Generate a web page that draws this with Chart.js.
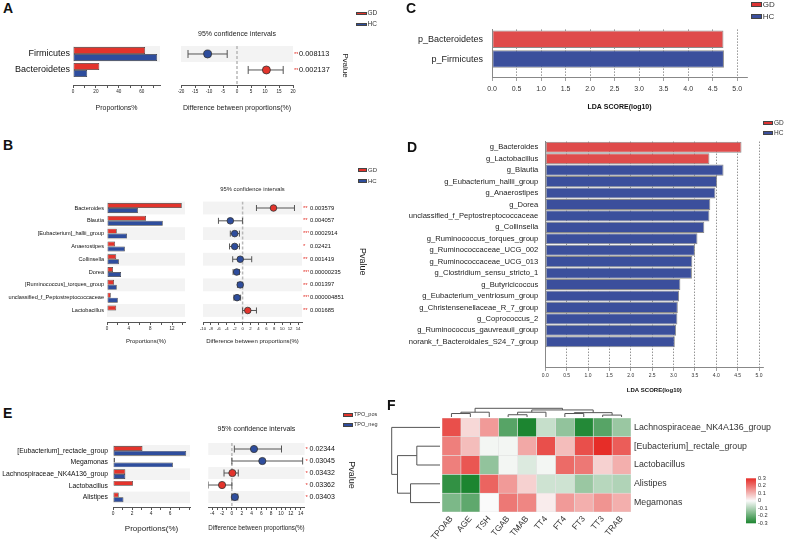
<!DOCTYPE html>
<html>
<head>
<meta charset="utf-8">
<script src="https://cdn.jsdelivr.net/npm/chart.js@4.4.1/dist/chart.umd.min.js"></script>
<style>
  body { margin: 0; background: #fff; width: 785px; height: 543px; position: relative; overflow: hidden; font-family: "Liberation Sans", Arial, sans-serif; }
  canvas { position: absolute; }
  .t { position: absolute; white-space: nowrap; color: #333; line-height: 1; z-index: 2; }
  .tag { position: absolute; font-weight: bold; font-size: 14px; line-height: 1; color: #111; z-index: 2; }
  .key { position: absolute; box-sizing: border-box; border: 0.6px solid #444; z-index: 2; }
</style>
</head>
<body>
<script>
// ---- A: phylum, GD vs HC ----
const aTaxa = ['Firmicutes', 'Bacteroidetes'];
const aGD = [63, 23];
const aHC = [73.5, 12.4];
const aDiff = [-10.5, 10.5];
const aLow = [-17.5, 4];
const aHigh = [-3.5, 16.5];
const aStars = ['**', '**'];
const aP = ['0.008113', '0.002137'];

// ---- B: genus, GD vs HC ----
const bTaxa = ['Bacteroides', 'Blautia', '[Eubacterium]_hallii_group', 'Anaerostipes', 'Collinsella', 'Dorea',
  '[Ruminococcus]_torques_group', 'unclassified_f_Peptostreptococcaceae', 'Lactobacillus'];
const bGD = [13.8, 7.2, 1.8, 1.5, 1.7, 1.1, 1.3, 0.7, 1.7];
const bHC = [5.7, 10.3, 3.7, 3.3, 2.2, 2.6, 1.8, 2.0, 0.1];
const bDiff = [7.8, -3.1, -2.0, -2.0, -0.6, -1.5, -0.6, -1.4, 1.3];
const bLow = [3.5, -6.1, -3.1, -3.3, -2.5, -2.4, -1.3, -2.2, 0];
const bHigh = [13.1, 0, -0.8, -0.8, 2.3, -0.8, 0, -0.5, 3.5];
const bStars = ['**', '**', '***', '*', '**', '***', '**', '***', '**'];
const bP = ['0.003579', '0.004057', '0.0002914', '0.02421', '0.001419', '0.00000235', '0.001397', '0.000004851', '0.001685'];

// ---- C: LDA phylum ----
const cTaxa = ['p_Bacteroidetes', 'p_Firmicutes'];
const cLDA = [4.72, 4.73];
const cGroup = ['GD', 'HC'];

// ---- D: LDA genus ----
const dTaxa = ['g_Bacteroides', 'g_Lactobacillus', 'g_Blautia', 'g_Eubacterium_hallii_group', 'g_Anaerostipes', 'g_Dorea',
  'unclassified_f_Peptostreptococcaceae', 'g_Collinsella', 'g_Ruminococcus_torques_group', 'g_Ruminococcaceae_UCG_002',
  'g_Ruminococcaceae_UCG_013', 'g_Clostridium_sensu_stricto_1', 'g_Butyricicoccus', 'g_Eubacterium_ventriosum_group',
  'g_Christensenellaceae_R_7_group', 'g_Coprococcus_2', 'g_Ruminococcus_gauvreauii_group', 'norank_f_Bacteroidales_S24_7_group'];
const dLDA = [4.59, 3.84, 4.17, 4.02, 3.98, 3.86, 3.84, 3.72, 3.56, 3.50, 3.44, 3.43, 3.16, 3.13, 3.10, 3.09, 3.06, 3.03];
const dGroup = ['GD', 'GD', 'HC', 'HC', 'HC', 'HC', 'HC', 'HC', 'HC', 'HC', 'HC', 'HC', 'HC', 'HC', 'HC', 'HC', 'HC', 'HC'];

// ---- E: TPO_pos vs TPO_neg ----
const eTaxa = ['[Eubacterium]_rectacle_group', 'Megamonas', 'Lachnospiraceae_NK4A136_group', 'Lactobacillus', 'Alistipes'];
const ePos = [3.1, 0.2, 1.3, 2.1, 0.6];
const eNeg = [7.7, 6.3, 1.3, 0, 1.1];
const eDiff = [4.5, 6.2, 0.1, -2.0, 0.6];
const eLow = [0.5, 0, -1.6, -4.8, 0];
const eHigh = [10.1, 14.4, 1.3, 0, 1.2];
const eStars = ['*', '*', '*', '*', '*'];
const eP = ['0.02344', '0.03045', '0.03432', '0.03362', '0.03403'];

// ---- F: correlation heatmap ----
const fRows = ['Lachnospiraceae_NK4A136_group', '[Eubacterium]_rectale_group', 'Lactobacillus', 'Alistipes', 'Megamonas'];
const fCols = ['TPOAB', 'AGE', 'TSH', 'TGAB', 'TMAB', 'TT4', 'FT4', 'FT3', 'TT3', 'TRAB'];
const fVals = [
  [0.25, 0.05, 0.14, -0.22, -0.30, -0.07, -0.14, -0.29, -0.22, -0.13],
  [0.18, 0.09, -0.01, -0.01, 0.12, 0.25, 0.09, 0.25, 0.30, 0.23],
  [0.18, 0.24, -0.14, -0.01, -0.04, -0.01, 0.21, 0.19, 0.06, 0.11],
  [-0.27, -0.30, 0.22, 0.14, 0.06, -0.06, -0.06, -0.13, -0.09, -0.10],
  [-0.17, -0.21, 0.00, 0.19, 0.17, 0.02, 0.14, 0.11, 0.15, 0.11]
];
const fColTree = [[0, 1, 0.4], [10, 2, 0.55], [3, 4, 0.26], [12, 5, 0.55], [6, 7, 0.4], [8, 9, 0.22], [14, 15, 0.5], [13, 16, 0.81], [11, 17, 1.0]];
const fRowTree = [[1, 2, 0.48], [3, 4, 0.61], [5, 6, 0.88], [0, 7, 1.0]];
const fScale = [-0.3, -0.2, -0.1, 0, 0.1, 0.2, 0.3];

Chart.defaults.font.family = '"Liberation Sans", Arial, sans-serif';
Chart.defaults.color = '#222';
Chart.defaults.animation = false;
Chart.defaults.responsive = false;
Chart.defaults.plugins.legend.display = false;
Chart.defaults.plugins.tooltip.enabled = false;

const RED = '#e3342c', BLUE = '#2e4d9d';
const LRED = '#df4b4b', LBLUE = '#3b4f9c';

function canvasAt(x, y, w, h) {
  const c = document.createElement('canvas');
  c.width = w; c.height = h;
  c.style.left = x + 'px'; c.style.top = y + 'px';
  c.style.width = w + 'px'; c.style.height = h + 'px';
  document.body.appendChild(c);
  return c;
}

function heat(v) {
  const k = Math.min(1, Math.abs(v) / 0.3);
  const mid = [250, 250, 250], end = v < 0 ? [28, 133, 48] : [230, 45, 40];
  return 'rgb(' + mid.map((m, i) => Math.round(m + (end[i] - m) * k)).join(',') + ')';
}

// grey bands behind every other row
const bands = {
  id: 'bands',
  beforeDatasetsDraw(chart, args, o) {
    const { ctx, chartArea: a, scales: { y } } = chart;
    ctx.save();
    ctx.fillStyle = '#f3f3f3';
    for (let i = 0; i < o.rows; i += 2) {
      const t = y.getPixelForValue(i - 0.5), b = y.getPixelForValue(i + 0.5);
      ctx.fillRect(a.left, t, a.right - a.left, b - t);
    }
    ctx.restore();
  }
};

function rows(labels, max, o) {
  return {
    type: 'linear', reverse: true, min: -0.5, max, offset: false,
    position: o.position || 'left', weight: o.weight || 0, display: o.display !== false,
    afterBuildTicks: s => { s.ticks = labels.map((_, i) => ({ value: i })); },
    ticks: Object.assign({ autoSkip: false, callback: v => labels[v] ?? '' }, o.ticks || {}),
    grid: { display: false, drawTicks: false },
    border: o.border || { display: false },
    afterFit: o.afterFit
  };
}

function xAxis(p, h) {
  return {
    type: 'linear', min: p.xmin ?? 0, max: p.xmax,
    ticks: {
      stepSize: p.step, includeBounds: false, autoSkip: false, maxRotation: 0, padding: 1,
      font: { size: p.tickFont },
      callback: v => (Math.abs(v % p.labelStep) < 1e-9 && v <= (p.labelMax ?? 1e9)) ? v : ''
    },
    grid: { drawOnChartArea: false, tickLength: 3, color: '#555' },
    border: { color: '#555' },
    title: { display: true, text: p.title, font: { size: p.titleFont }, padding: { top: 0, bottom: p.titlePad } },
    afterFit: s => { s.height = h; }
  };
}

function propChart(p) {
  const [cx, cy, cw, ch] = p.box, [L, T, R, B] = p.area;
  return new Chart(canvasAt(cx, cy, cw, ch), {
    type: 'bar',
    data: {
      datasets: [
        { data: p.g1.map((v, i) => ({ x: v, y: i })), backgroundColor: RED },
        { data: p.g2.map((v, i) => ({ x: v, y: i })), backgroundColor: BLUE }
      ]
    },
    options: {
      indexAxis: 'y',
      layout: { padding: { left: 0, top: T - cy, right: cx + cw - R, bottom: 0 } },
      datasets: { bar: { categoryPercentage: p.cat, barPercentage: 1, borderColor: '#3a3a3a', borderWidth: 0.7, borderSkipped: false } },
      scales: {
        x: xAxis(p, cy + ch - B),
        y: rows(p.names, p.ymax, {
          ticks: { font: { size: p.nameFont }, padding: p.namePad, color: '#111' },
          afterFit: s => { s.width = L - cx; }
        })
      },
      plugins: { bands: { rows: p.names.length } }
    },
    plugins: [bands]
  });
}

function ciChart(p) {
  const [cx, cy, cw, ch] = p.box, [L, T, R, B] = p.area;
  const colors = p.g1.map((v, i) => v >= p.g2[i] ? RED : BLUE);
  const datasets = [{
    type: 'scatter', data: p.diff.map((v, i) => ({ x: v, y: i })), order: 0,
    pointRadius: p.r, pointBackgroundColor: colors, pointBorderColor: '#333', pointBorderWidth: 0.8
  }];
  p.lo.forEach((lo, i) => datasets.push({
    type: 'line', data: [{ x: lo, y: i }, { x: p.hi[i], y: i }], order: 1,
    borderColor: '#555', borderWidth: 1, pointStyle: 'line', pointRotation: 90,
    pointRadius: p.cap, pointBorderColor: '#555', pointBorderWidth: 1
  }));
  datasets.push({
    type: 'line', data: [{ x: 0, y: -0.5 }, { x: 0, y: p.ymax }], order: 2,
    borderColor: '#b8b8b8', borderWidth: 1.5, borderDash: [3, 2], pointRadius: 0
  });
  const lh = p.ciFont * 1.2;
  return new Chart(canvasAt(cx, cy, cw, ch), {
    type: 'scatter',
    data: { datasets },
    options: {
      layout: { padding: { left: L - cx, top: 0, right: cx + cw - R - p.starsW - p.pvW, bottom: 0 } },
      scales: {
        x: xAxis(p, cy + ch - B),
        y: rows(p.names, p.ymax, { display: false }),
        ys: rows(p.stars, p.ymax, {
          position: 'right', weight: 1,
          ticks: { padding: 1, color: RED, font: { size: p.starFont } },
          afterFit: s => { s.width = p.starsW; }
        }),
        yp: Object.assign(rows(p.pv, p.ymax, {
          position: 'right', weight: 2,
          ticks: { padding: 1, color: '#111', font: { size: p.pvFont } },
          afterFit: s => { s.width = p.pvW; }
        }), { title: { display: true, text: 'Pvalue', color: '#222', font: { size: p.pTitleFont } } })
      },
      plugins: {
        bands: { rows: p.names.length },
        title: {
          display: true, text: '95% confidence intervals', fullSize: false, color: '#222',
          font: { size: p.ciFont, weight: 'normal' },
          padding: { top: p.ciTop - cy - lh / 2, bottom: T - p.ciTop - lh / 2 }
        }
      }
    },
    plugins: [bands]
  });
}

function ldaChart(p) {
  const [cx, cy, cw, ch] = p.box, [L, T, R, B] = p.area;
  const ds = (g, color) => ({
    data: p.names.map((n, i) => ({ x: p.score[i], y: i })).filter((d, i) => p.group[i] === g),
    backgroundColor: color
  });
  return new Chart(canvasAt(cx, cy, cw, ch), {
    type: 'bar',
    data: { datasets: [ds('GD', LRED), ds('HC', LBLUE)] },
    options: {
      indexAxis: 'y',
      layout: { padding: { left: 0, top: T - cy, right: cx + cw - R, bottom: 0 } },
      datasets: { bar: { grouped: false, categoryPercentage: p.cat, barPercentage: 1, borderColor: '#8c8c8c', borderWidth: 1, borderSkipped: false } },
      scales: {
        x: {
          type: 'linear', min: 0, max: p.xmax, z: 1,
          ticks: { stepSize: 0.5, includeBounds: false, autoSkip: false, maxRotation: 0, padding: p.tickPad, font: { size: p.tickFont }, color: '#333', callback: v => v.toFixed(1) },
          grid: { color: '#666', lineWidth: 0.7, tickLength: 4, tickColor: '#777' },
          border: { color: '#888', dash: [1.5, 1.5] },
          title: { display: true, text: 'LDA SCORE(log10)', color: '#111', font: { size: p.titleFont, weight: 'bold' }, padding: { top: 0, bottom: p.titlePad } },
          afterFit: s => { s.height = cy + ch - B; }
        },
        y: rows(p.names, p.ymax, {
          border: { display: true, color: '#888' },
          ticks: { font: { size: p.nameFont }, padding: p.namePad, color: '#222' },
          afterFit: s => { s.width = L - cx; }
        })
      }
    }
  });
}

// ---------- A ----------
propChart({ box: [0, 36, 180, 80], area: [73, 46, 160, 85], names: aTaxa, g1: aGD, g2: aHC, ymax: 1.94,
  xmax: 76, step: 10, labelStep: 20, tickFont: 4.6, nameFont: 9, namePad: 3, cat: 0.875,
  title: 'Proportions%', titleFont: 7, titlePad: 4 });
ciChart({ box: [175, 25, 210, 91], area: [181, 46, 293, 85], names: aTaxa, g1: aGD, g2: aHC,
  diff: aDiff, lo: aLow, hi: aHigh, stars: aStars, pv: aP, ymax: 1.94,
  xmin: -20, xmax: 20, step: 5, labelStep: 5, tickFont: 4.6, r: 4, cap: 4,
  starsW: 5, starFont: 6, pvW: 56, pvFont: 7.4, pTitleFont: 8, ciFont: 7, ciTop: 34,
  title: 'Difference between proportions(%)', titleFont: 7, titlePad: 4 });

// ---------- B ----------
propChart({ box: [0, 195, 190, 152], area: [107, 201.6, 185, 322], names: bTaxa, g1: bGD, g2: bHC, ymax: 8.9,
  xmax: 14.4, step: 2, labelStep: 4, tickFont: 4.5, nameFont: 5.6, namePad: 3, cat: 0.78,
  title: 'Proportions(%)', titleFont: 6, titlePad: 2 });
ciChart({ box: [195, 180, 190, 167], area: [203, 201.6, 302, 322], names: bTaxa, g1: bGD, g2: bHC,
  diff: bDiff, lo: bLow, hi: bHigh, stars: bStars, pv: bP, ymax: 8.9,
  xmin: -10, xmax: 15, step: 2, labelStep: 2, tickFont: 4.3, r: 3.3, cap: 3,
  starsW: 7, starFont: 6, pvW: 63, pvFont: 5.8, pTitleFont: 9, ciFont: 5.8, ciTop: 189.5,
  title: 'Difference between proportions(%)', titleFont: 6, titlePad: 2 });

// ---------- C ----------
ldaChart({ box: [395, 15, 390, 100], area: [492, 24, 747, 77], names: cTaxa, score: cLDA, group: cGroup,
  ymax: 1.91, xmax: 5.2, cat: 0.88, nameFont: 9, namePad: 9, tickFont: 7, tickPad: 4, titleFont: 7, titlePad: 3.8 });

// ---------- D ----------
ldaChart({ box: [395, 130, 390, 265], area: [545.3, 139.2, 763.3, 367], names: dTaxa, score: dLDA, group: dGroup,
  ymax: 19.21, xmax: 5.1, cat: 0.97, nameFont: 7.6, namePad: 7, tickFont: 5, tickPad: 2, titleFont: 6, titlePad: 1.4 });

// ---------- E ----------
propChart({ box: [0, 436, 200, 100], area: [113, 443, 190, 507], names: eTaxa, g1: ePos, g2: eNeg, ymax: 4.83,
  xmax: 8.1, step: 1, labelStep: 2, labelMax: 6, tickFont: 4.8, nameFont: 6.8, namePad: 5, cat: 0.83,
  title: 'Proportions(%)', titleFont: 8, titlePad: 2.8 });
ciChart({ box: [200, 418, 185, 118], area: [208.3, 443, 304.6, 507], names: eTaxa, g1: ePos, g2: eNeg,
  diff: eDiff, lo: eLow, hi: eHigh, stars: eStars, pv: eP, ymax: 4.83,
  xmin: -4.8, xmax: 14.8, step: 1, labelStep: 2, tickFont: 4.8, r: 3.6, cap: 3.5,
  starsW: 4, starFont: 6, pvW: 52.4, pvFont: 7, pTitleFont: 9, ciFont: 7, ciTop: 429,
  title: 'Difference between proportions(%)', titleFont: 7, titlePad: 3.5 });

// ---------- F ----------
function drawTree(ctx, link, n, pos, base, span, vertical) {
  const P = [], H = [];
  for (let i = 0; i < n; i++) { P[i] = pos(i); H[i] = 0; }
  const maxH = Math.max(...link.map(l => l[2]));
  const px = h => base + span * h / maxH;
  link.forEach(([a, b, h], k) => {
    P[n + k] = (P[a] + P[b]) / 2; H[n + k] = h;
    ctx.beginPath();
    if (vertical) {
      ctx.moveTo(P[a], px(H[a])); ctx.lineTo(P[a], px(h)); ctx.lineTo(P[b], px(h)); ctx.lineTo(P[b], px(H[b]));
    } else {
      ctx.moveTo(px(H[a]), P[a]); ctx.lineTo(px(h), P[a]); ctx.lineTo(px(h), P[b]); ctx.lineTo(px(H[b]), P[b]);
    }
    ctx.stroke();
  });
}
const dendro = {
  id: 'dendro',
  afterDatasetsDraw(chart) {
    const { ctx, chartArea: a, scales: { x, y } } = chart;
    ctx.save();
    ctx.strokeStyle = '#555'; ctx.lineWidth = 1;
    drawTree(ctx, fColTree, fCols.length, j => x.getPixelForValue(j + 0.5), a.top - 1, -8.7, true);
    drawTree(ctx, fRowTree, fRows.length, i => y.getPixelForValue(i), a.left - 2, -48.3, false);
    ctx.restore();
  }
};
new Chart(canvasAt(385, 400, 400, 143), {
  type: 'bar',
  data: {
    labels: fRows,
    datasets: fCols.map((c, j) => ({
      label: c,
      data: fRows.map(() => [j, j + 1]),
      backgroundColor: fRows.map((r, i) => heat(fVals[i][j]))
    }))
  },
  options: {
    indexAxis: 'y',
    layout: { padding: { left: 57, top: 18, right: 0, bottom: 0 } },
    datasets: { bar: { grouped: false, categoryPercentage: 1, barPercentage: 1, borderColor: '#e2e2e2', borderWidth: 0.6, borderSkipped: false } },
    scales: {
      x: {
        type: 'linear', min: 0, max: fCols.length,
        afterBuildTicks: s => { s.ticks = fCols.map((_, j) => ({ value: j + 0.5 })); },
        ticks: { autoSkip: false, minRotation: 50, maxRotation: 50, padding: 2, font: { size: 8.5 }, color: '#333', callback: (v, i) => fCols[i] },
        grid: { display: false, drawTicks: false }, border: { display: false },
        afterFit: s => { s.height = 31; }
      },
      y: {
        position: 'right',
        ticks: { padding: 3, font: { size: 8.8 }, color: '#333' },
        grid: { display: false, drawTicks: false }, border: { display: false },
        afterFit: s => { s.width = 154; }
      }
    }
  },
  plugins: [dendro]
});

// colour key
const cbar = {
  id: 'cbar',
  beforeDatasetsDraw(chart) {
    const { ctx, chartArea: a, scales: { y } } = chart;
    const g = ctx.createLinearGradient(0, y.getPixelForValue(-0.3), 0, y.getPixelForValue(0.3));
    fScale.forEach((v, i) => g.addColorStop(i / (fScale.length - 1), heat(v)));
    ctx.save();
    ctx.fillStyle = g;
    ctx.fillRect(a.left, a.top, a.right - a.left, a.bottom - a.top);
    ctx.restore();
  }
};
new Chart(canvasAt(738, 470, 47, 62), {
  type: 'bar',
  data: { labels: [], datasets: [] },
  options: {
    layout: { padding: { left: 8, top: 8.3, right: 0, bottom: 8.7 } },
    scales: {
      x: { display: false },
      y: {
        position: 'right', min: -0.3, max: 0.3,
        afterBuildTicks: s => { s.ticks = fScale.map(v => ({ value: v })); },
        ticks: { autoSkip: false, padding: 2, font: { size: 5.6 }, color: '#333', callback: v => Math.abs(v) < 1e-9 ? '0' : v.toFixed(1) },
        grid: { display: false, drawTicks: false }, border: { display: false },
        afterFit: s => { s.width = 29; }
      }
    }
  },
  plugins: [cbar]
});

// ---------- panel tags and legends ----------
function tag(ch, x, y) {
  const d = document.createElement('div');
  d.className = 'tag'; d.textContent = ch;
  d.style.left = x + 'px'; d.style.top = y + 'px';
  document.body.appendChild(d);
}
function key(x, y, w, h, color, text, fs) {
  const b = document.createElement('div');
  b.className = 'key';
  Object.assign(b.style, { left: x + 'px', top: y + 'px', width: w + 'px', height: h + 'px', background: color });
  document.body.appendChild(b);
  const t = document.createElement('div');
  t.className = 't'; t.textContent = text;
  Object.assign(t.style, { left: (x + w + 1) + 'px', top: (y + h / 2 - fs / 2) + 'px', fontSize: fs + 'px' });
  document.body.appendChild(t);
}
tag('A', 3, 1); tag('B', 3, 138); tag('C', 406, 1); tag('D', 407, 140); tag('E', 3, 406); tag('F', 387, 398);
key(356, 11.7, 10.5, 3.6, RED, 'GD', 6.5); key(356, 22.7, 10.5, 3.8, BLUE, 'HC', 6.5);
key(358, 168, 9, 4, RED, 'GD', 6); key(358, 179, 9, 4, BLUE, 'HC', 6);
key(750.7, 1.7, 11, 5.6, '#dd3333', 'GD', 8); key(750.7, 14, 11, 5.4, LBLUE, 'HC', 8);
key(763, 121, 10, 4.2, '#dd3333', 'GD', 6.5); key(763, 131, 10, 4.2, LBLUE, 'HC', 6.5);
key(343, 412.5, 10, 4, RED, 'TPO_pos', 5.5); key(343, 422.5, 10, 4, BLUE, 'TPO_neg', 5.5);
</script>
</body>
</html>
